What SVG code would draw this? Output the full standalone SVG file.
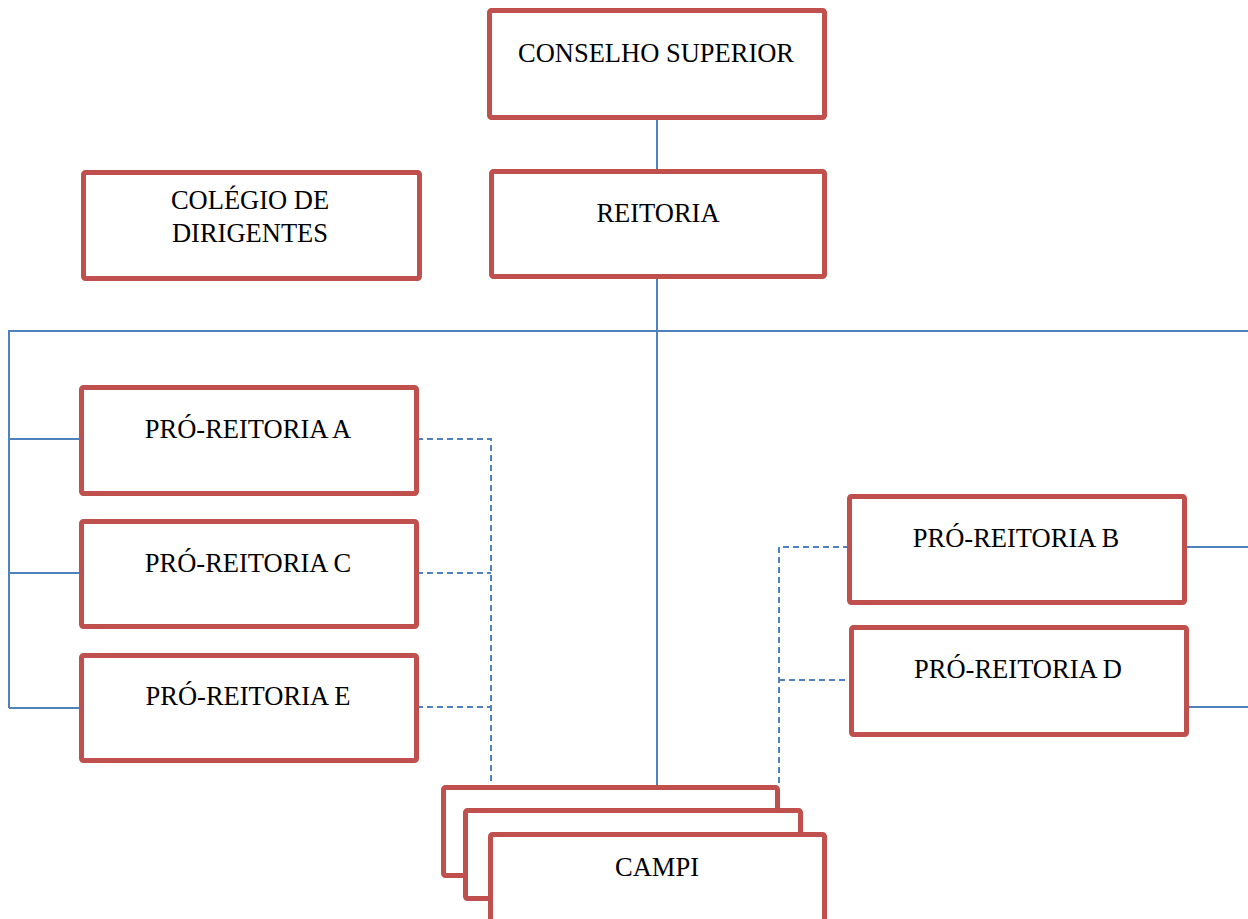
<svg xmlns="http://www.w3.org/2000/svg" width="1248" height="919" viewBox="0 0 1248 919">
<style>
.box{fill:#fff;stroke:#C0504D;stroke-width:5;}
.t{font-family:"Liberation Serif","Times New Roman",serif;font-size:26.5px;fill:#000;text-anchor:middle;}
.ln{fill:none;stroke:#4F81BD;stroke-width:2;}
.dl{fill:none;stroke:#4F81BD;stroke-width:2;stroke-dasharray:6 4;}
</style>
<rect width="1248" height="919" fill="#fff"/>
<g id="connectors">
<line class="ln" x1="657" y1="118" x2="657" y2="171"/>
<line class="ln" x1="657" y1="277" x2="657" y2="787"/>
<polyline class="ln" points="1250,331 9,331 9,708"/>
<line class="ln" x1="9" y1="439" x2="81" y2="439"/>
<line class="ln" x1="9" y1="573" x2="81" y2="573"/>
<line class="ln" x1="9" y1="708" x2="81" y2="708"/>
<line class="ln" x1="1185" y1="547" x2="1250" y2="547"/>
<line class="ln" x1="1187" y1="707" x2="1250" y2="707"/>
<polyline class="dl" points="417,439 491,439 491,787"/>
<line class="dl" x1="417" y1="573" x2="491" y2="573"/>
<line class="dl" x1="417" y1="707" x2="491" y2="707"/>
<polyline class="dl" points="849,547 779,547 779,787"/>
<line class="dl" x1="779" y1="680" x2="851" y2="680"/>
</g>
<g id="conselho-superior">
<rect class="box" x="489.5" y="10.5" width="335" height="107" rx="2"/>
<text class="t" x="656" y="62">CONSELHO SUPERIOR</text>
</g>
<g id="colegio-dirigentes">
<rect class="box" x="83.5" y="172.5" width="336" height="106" rx="2"/>
<text class="t" x="250" y="209">COLÉGIO DE</text>
<text class="t" x="250" y="242">DIRIGENTES</text>
</g>
<g id="reitoria">
<rect class="box" x="491.5" y="171.5" width="333" height="105" rx="2"/>
<text class="t" x="658" y="222">REITORIA</text>
</g>
<g id="pro-reitoria-a">
<rect class="box" x="81.5" y="387.5" width="335" height="106" rx="2"/>
<text class="t" x="248" y="438">PRÓ-REITORIA A</text>
</g>
<g id="pro-reitoria-c">
<rect class="box" x="81.5" y="521.5" width="335" height="105" rx="2"/>
<text class="t" x="248" y="572">PRÓ-REITORIA C</text>
</g>
<g id="pro-reitoria-e">
<rect class="box" x="81.5" y="655.5" width="335" height="105" rx="2"/>
<text class="t" x="248" y="705">PRÓ-REITORIA E</text>
</g>
<g id="pro-reitoria-b">
<rect class="box" x="849.5" y="496.5" width="335" height="106" rx="2"/>
<text class="t" x="1016" y="547">PRÓ-REITORIA B</text>
</g>
<g id="pro-reitoria-d">
<rect class="box" x="851.5" y="627.5" width="335" height="107" rx="2"/>
<text class="t" x="1018" y="678">PRÓ-REITORIA D</text>
</g>
<g id="campi">
<rect class="box" x="443.5" y="787.5" width="334" height="88" rx="2"/>
<rect class="box" x="465.5" y="810.5" width="335" height="88" rx="2"/>
<rect class="box" x="490.5" y="834.5" width="334" height="110" rx="2"/>
<text class="t" x="657" y="876">CAMPI</text>
</g>
</svg>
